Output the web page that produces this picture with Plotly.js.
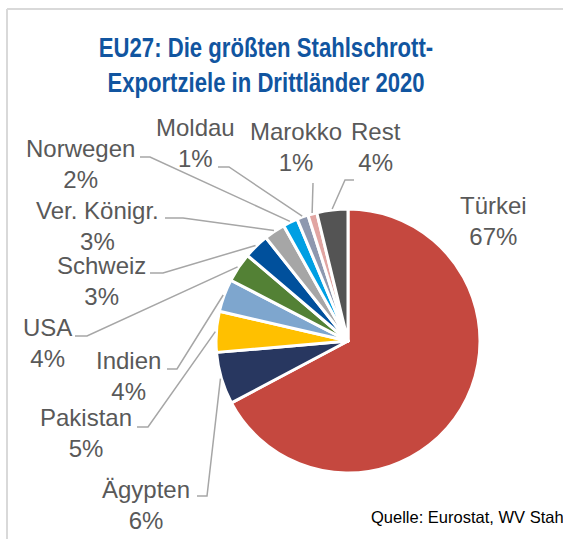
<!DOCTYPE html>
<html>
<head>
<meta charset="utf-8">
<script src="https://cdn.plot.ly/plotly-3.0.1.min.js"></script>
<style>html,body{margin:0;padding:0;background:#fff;}#chart{width:563px;height:539px;}</style>
</head>
<body>
<div id="chart"></div>
<script>
// ---- data ----
var countries = ["Türkei", "Ägypten", "Pakistan", "Indien", "USA", "Schweiz", "Ver. Königr.", "Norwegen", "Moldau", "Marokko", "Rest"];
var shares = [67.3, 6.4, 5.0, 4.0, 3.6, 3.1, 2.6, 1.8, 1.4, 1.1, 3.8];
var colors = ["#C5483F", "#283760", "#FFC000", "#7EA6CE", "#538135", "#00509C", "#A6A6A6", "#009FE3", "#8E98AF", "#E1A5A2", "#545454"];
var titleText = "EU27: Die größten Stahlschrott-<br>Exportziele in Drittländer 2020";
var sourceText = "Quelle: Eurostat, WV Stahl";

// ---- layout helpers (pixel -> paper) ----
var W = 563, H = 539;
function px(x) { return x / W; }
function py(y) { return 1 - y / H; }

// pie placement (pixels)
var cx = 348, cy = 341, R = 132;

// label placement: [centerX, firstBaselineY] and leader start [x, y, elbowX] (null = none)
var labelPos = [
  [493, 213], [146, 497], [86, 425], [128, 368], [47, 335], [101, 273],
  [97, 218], [80, 156], [195, 135], [296, 139], [376, 139]
];
var leaderStart = [
  null, [197, 496, 207], [137, 427, 148], [167, 369, 177], [75, 336, 87],
  [150, 273, 163], [165, 218, 183], [140, 157, 150], [218, 167, 229],
  [313, 183, 313], [354, 180, 345]
];

var total = shares.reduce(function (a, b) { return a + b; }, 0);
var annotations = [];
var shapes = [];
var cum = 0;
var FS = 24;
for (var i = 0; i < countries.length; i++) {
  var mid = (cum + shares[i] / 2) / total * 2 * Math.PI;
  cum += shares[i];
  var pct = Math.round(shares[i] / total * 100) + "%";
  annotations.push({
    xref: "paper", yref: "paper",
    x: px(labelPos[i][0]), y: py(labelPos[i][1] + 8),
    xanchor: "center", yanchor: "middle",
    text: countries[i] + "<br>" + pct,
    showarrow: false,
    font: { family: "Liberation Sans, Arial, sans-serif", size: FS, color: "#595959" }
  });
  if (leaderStart[i]) {
    var ex = cx + (R + 1) * Math.sin(mid);
    var ey = cy - (R + 1) * Math.cos(mid);
    var s = leaderStart[i];
    shapes.push({
      type: "path", xref: "paper", yref: "paper",
      path: "M " + px(s[0]) + "," + py(s[1]) + " L " + px(s[2]) + "," + py(s[1]) + " L " + px(ex) + "," + py(ey),
      line: { color: "#A6A6A6", width: 1.5 }
    });
  }
}

// title
annotations.push({
  xref: "paper", yref: "paper", x: px(266), y: py(65),
  xanchor: "center", yanchor: "middle", showarrow: false,
  text: titleText,
  font: { family: "Liberation Sans Narrow, Arial Narrow, Liberation Sans, sans-serif", size: 27, color: "#1155A0", weight: "bold" }
});
// source
annotations.push({
  xref: "paper", yref: "paper", x: px(369), y: py(517),
  xanchor: "left", yanchor: "middle", showarrow: false,
  text: sourceText,
  font: { family: "Liberation Sans, Arial, sans-serif", size: 16.5, color: "#000000" }
});

// frame lines
shapes.push({ type: "line", xref: "paper", yref: "paper", x0: px(7), x1: px(7), y0: py(9), y1: 0, line: { color: "#D9D9D9", width: 2 } });
shapes.push({ type: "line", xref: "paper", yref: "paper", x0: px(7), x1: 1, y0: py(9), y1: py(9), line: { color: "#D9D9D9", width: 2 } });

var trace = {
  type: "pie",
  labels: countries,
  values: shares,
  sort: false,
  direction: "clockwise",
  rotation: 0,
  textinfo: "none",
  hoverinfo: "label+percent",
  marker: { colors: colors, line: { color: "#FFFFFF", width: 3 } },
  domain: { x: [px(cx - R), px(cx + R)], y: [py(cy + R), py(cy - R)] }
};

var layout = {
  width: W, height: H,
  margin: { l: 0, r: 0, t: 0, b: 0 },
  paper_bgcolor: "#FFFFFF",
  showlegend: false,
  annotations: annotations,
  shapes: shapes
};

Plotly.newPlot("chart", [trace], layout, { displayModeBar: false, staticPlot: true }).then(function (gd) {
  // condense the title horizontally (narrow font look), keeping it as real text
  var texts = gd.querySelectorAll("text.annotation-text");
  for (var k = 0; k < texts.length; k++) {
    var t = texts[k];
    if (t.textContent.indexOf("EU27") === 0) {
      var bb = t.getBBox();
      var c = bb.x + bb.width / 2;
      var prev = t.getAttribute("transform") || "";
      t.setAttribute("transform", prev + " translate(" + c + ",0) scale(0.82,1) translate(" + (-c) + ",0)");
    }
  }
});
</script>
</body>
</html>
